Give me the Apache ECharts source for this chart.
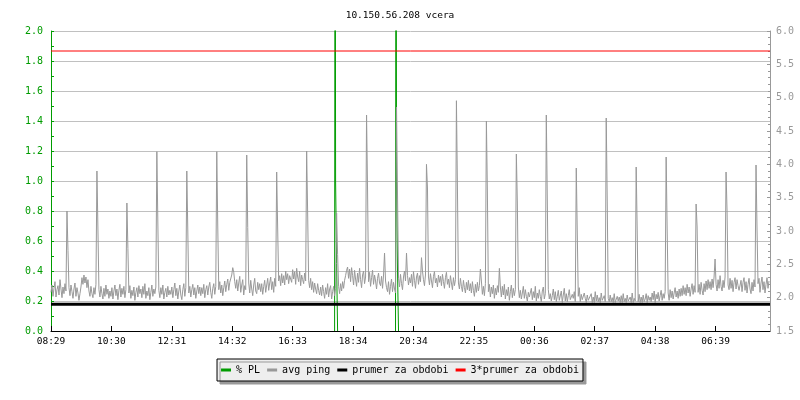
<!DOCTYPE html>
<html>
<head>
<meta charset="utf-8">
<script src="https://cdn.jsdelivr.net/npm/echarts@6/dist/echarts.min.js"></script>
<style>html,body{margin:0;padding:0;background:#fff}#c{width:800px;height:400px}</style>
</head>
<body>
<div id="c"></div>
<script>
// ---- data ----
const titleText = '10.150.56.208 vcera';
const xLabels = ['08:29','10:30','12:31','14:32','16:33','18:34','20:34','22:35','00:36','02:37','04:38','06:39'];
const xTickStep = 121;       // minutes between labelled ticks
const spanMinutes = 1440;
const pingStepMin = 2;       // sample step of avg ping (minutes)
const pingValues = [
 2.08,2.19,2.02,2.14,2.24,2.01,2.12,2.18,2.04,2.27,
 2.13,2.00,2.16,2.06,2.21,2.10,3.30,2.71,2.15,2.03,
 2.19,2.09,1.99,2.13,2.22,2.02,2.15,2.07,1.96,2.06,
 2.16,2.30,2.20,2.34,2.22,2.31,2.15,2.27,2.10,2.02,
 2.17,2.06,2.00,2.15,2.05,2.20,3.90,3.03,2.12,2.01,
 2.17,2.06,1.98,2.14,2.02,2.19,2.05,2.13,1.99,2.10,
 2.02,2.15,1.98,2.10,2.19,2.03,2.13,1.97,2.11,2.20,
 2.01,2.14,2.05,2.17,2.00,2.12,3.42,2.74,2.07,2.18,
 1.99,2.11,2.03,2.16,1.96,2.08,2.15,2.01,2.18,2.06,
 2.13,2.00,2.17,2.05,2.21,1.99,2.10,2.03,2.15,1.97,
 2.08,2.19,2.02,2.13,2.06,2.16,4.19,3.12,2.11,2.00,
 2.15,2.05,2.19,1.98,2.08,2.14,2.01,2.17,2.04,2.11,
 2.05,2.16,2.00,2.12,2.22,2.03,2.14,1.98,2.10,2.19,
 2.04,1.97,2.12,2.21,2.02,2.15,3.90,3.00,2.07,2.17,
 2.01,2.12,2.20,2.04,2.15,1.99,2.10,2.19,2.06,2.16,
 2.03,2.15,2.06,2.20,2.00,2.12,2.18,2.04,2.16,2.23,
 2.08,1.99,2.14,2.21,2.05,2.17,4.19,3.06,2.12,2.24,
 2.07,2.19,2.03,2.15,2.25,2.09,2.20,2.28,2.11,2.23,
 2.20,2.34,2.45,2.38,2.24,2.14,2.27,2.10,2.22,2.32,
 2.08,2.19,2.27,2.04,2.18,2.12,4.14,3.05,2.22,2.07,
 2.26,2.13,2.03,2.19,2.29,2.10,2.06,2.23,2.12,2.21,
 2.09,2.21,2.05,2.17,2.26,2.08,2.19,2.29,2.11,2.22,
 2.31,2.12,2.24,2.08,2.29,2.17,3.885,3.03,2.25,2.33,
 2.18,2.36,2.22,2.33,2.19,2.40,2.27,2.36,2.21,2.33,
 2.36,2.23,2.42,2.28,2.39,2.20,2.44,2.31,2.24,2.40,
 2.18,2.34,2.27,2.21,2.37,2.25,4.20,3.27,2.26,2.15,
 2.29,2.12,2.24,2.08,2.22,2.13,2.06,2.21,2.11,2.04,
 2.16,2.03,2.19,2.09,1.99,2.15,2.05,2.21,2.01,2.13,
 2.18,1.98,2.09,2.17,2.03,2.14,3.27,2.65,2.17,2.06,
 2.21,2.10,2.24,2.14,2.26,2.33,2.41,2.46,2.29,2.43,
 2.24,2.45,2.33,2.19,2.41,2.28,2.17,2.37,2.23,2.44,
 2.27,2.15,2.34,2.40,2.21,2.31,4.74,3.615,2.24,2.38,
 2.17,2.30,2.41,2.20,2.34,2.25,2.13,2.29,2.37,2.22,
 2.18,2.32,2.14,2.34,2.67,2.25,2.15,2.09,2.24,2.05,
 2.17,2.28,2.09,2.23,2.13,2.07,4.86,3.54,2.29,2.16,
 2.35,2.21,2.12,2.31,2.40,2.25,2.67,2.33,2.19,2.30,
 2.22,2.35,2.17,2.39,2.26,2.14,2.31,2.37,2.20,2.33,
 2.24,2.60,2.40,2.27,2.18,2.34,4.00,3.645,2.31,2.19,
 2.36,2.25,2.15,2.32,2.39,2.22,2.29,2.16,2.34,2.23,
 2.32,2.18,2.35,2.24,2.14,2.30,2.38,2.20,2.28,2.15,
 2.33,2.22,2.12,2.30,2.18,2.27,4.954,3.66,2.22,2.13,
 2.29,2.17,2.09,2.26,2.15,2.07,2.23,2.12,2.26,2.10,
 2.21,2.07,2.24,2.11,2.02,2.20,2.08,2.23,2.10,2.18,
 2.43,2.25,2.05,2.17,2.03,2.21,4.65,3.57,2.09,2.20,
 2.01,2.16,2.06,2.19,1.99,2.14,2.04,2.18,2.08,2.44,
 2.16,2.01,2.17,2.04,2.20,1.98,2.12,2.03,2.16,1.96,
 2.09,2.19,2.00,2.14,2.03,2.12,4.155,3.42,2.16,2.00,
 2.11,1.98,2.07,2.17,1.99,2.12,2.02,1.95,2.08,2.01,
 2.02,2.14,1.97,2.09,2.00,2.17,1.95,2.07,1.99,2.12,
 2.02,1.94,2.10,2.16,1.98,2.06,4.74,3.465,2.12,1.98,
 2.06,1.95,2.03,2.13,1.97,2.09,1.94,2.02,2.11,1.96,
 1.99,2.10,1.93,2.04,2.14,1.95,2.06,1.94,2.03,2.12,
 1.97,1.94,2.05,1.99,2.09,1.94,3.945,2.97,2.02,2.15,
 1.94,2.05,1.97,1.94,2.07,1.99,1.93,2.04,1.96,1.94,
 1.94,2.06,1.93,2.01,1.93,2.09,1.95,2.04,1.94,2.00,
 1.93,2.07,1.96,1.94,2.03,1.94,4.695,3.465,1.99,1.94,
 2.04,1.94,2.00,1.93,2.06,1.93,1.94,2.02,1.95,2.01,
 1.93,2.03,1.93,2.06,1.94,1.99,1.93,2.04,1.95,1.94,
 2.01,1.93,2.07,1.93,1.99,1.95,3.96,3.03,1.94,2.05,
 1.93,2.01,1.93,2.04,1.94,1.98,2.06,1.93,2.03,1.96,
 2.01,1.94,2.07,1.97,2.10,1.93,2.05,1.98,2.08,1.95,
 2.03,2.11,1.96,2.06,1.99,2.09,4.11,3.03,2.07,1.96,
 2.12,2.00,2.10,1.98,2.07,2.15,2.01,2.10,1.99,2.13,
 2.02,2.14,2.03,2.18,2.05,2.15,2.03,2.20,2.07,2.16,
 2.02,2.13,2.21,2.05,2.18,2.08,3.405,3.06,2.08,2.20,
 2.05,2.23,2.11,2.04,2.21,2.09,2.25,2.12,2.27,2.14,
 2.24,2.12,2.28,2.15,2.31,2.58,2.20,2.10,2.27,2.14,
 2.33,2.17,2.10,2.26,2.15,2.31,3.885,3.30,2.19,2.12,
 2.29,2.14,2.26,2.09,2.23,2.30,2.13,2.27,2.18,2.11,
 2.12,2.26,2.09,2.23,2.30,2.11,2.24,2.07,2.20,2.29,
 2.13,2.06,2.23,2.10,2.27,2.16,3.99,3.03,2.21,2.29,
 2.08,2.22,2.31,2.12,2.24,2.07,2.20,2.30,2.14,2.25
];
const plTimes  = [568, 569, 570, 572, 574, 575, 690, 691, 692, 694, 696];
const plValues = [0,   4,   1.0, 0.45, 0,  null, 0,  4,   1.0, 0.40, 0];
const avgPing = 1.9;
const avgPing3 = 5.7;
const seriesNames = ['% PL', 'avg ping', 'prumer za obdobi', '3*prumer za obdobi'];

// ---- build ----
const GREEN = '#009c00';
const GRAY = '#999999';
const FONT = 'DejaVu Sans Mono';
const pingData = pingValues.map((v, i) => [i * pingStepMin, v]);
const plData = plTimes.map((t, i) => [t, plValues[i]]);

const chart = echarts.init(document.getElementById('c'), null, {renderer: 'canvas'});
chart.setOption({
  animation: false,
  backgroundColor: '#ffffff',
  title: {
    text: titleText, left: 'center', top: 6,
    textStyle: {fontFamily: FONT, fontSize: 9.5, fontWeight: 'normal', color: '#000'}
  },
  grid: {left: 51, right: 30, top: 31, bottom: 69},
  legend: {
    data: seriesNames, left: 'center', top: 359,
    icon: 'rect', itemWidth: 10, itemHeight: 3, itemGap: 7,
    padding: [6, 4],
    backgroundColor: '#eeeeee', borderColor: '#000', borderWidth: 1,
    shadowColor: '#999999', shadowOffsetX: 3, shadowOffsetY: 3, shadowBlur: 0.01,
    textStyle: {fontFamily: FONT, fontSize: 10, color: '#000'}
  },
  xAxis: {
    type: 'value', min: 0, max: spanMinutes, interval: xTickStep, z: 10,
    axisLine: {show: true, lineStyle: {color: '#000', width: 1}},
    axisTick: {show: true, inside: true, length: 5, lineStyle: {color: '#000'}},
    splitLine: {show: false},
    axisLabel: {
      fontFamily: FONT, fontSize: 9.5, color: '#000', margin: 6, showMaxLabel: false,
      formatter: function (v) {
        const i = Math.round(v / xTickStep);
        return (Math.abs(v - i * xTickStep) < 0.01 && i < xLabels.length) ? xLabels[i] : '';
      }
    }
  },
  yAxis: [
    {
      type: 'value', min: 0, max: 2, interval: 0.2, position: 'left',
      axisLine: {show: true, lineStyle: {color: GREEN}},
      axisTick: {show: true, inside: true, length: 3, lineStyle: {color: GREEN}},
      minorTick: {show: true, splitNumber: 2, length: 3, lineStyle: {color: GREEN}},
      splitLine: {show: true, lineStyle: {color: '#c0c0c0', width: 1}},
      axisLabel: {fontFamily: FONT, fontSize: 10, color: GREEN, margin: 8,
        formatter: v => v.toFixed(1)}
    },
    {
      type: 'value', min: 1.5, max: 6, interval: 0.5, position: 'right',
      axisLine: {show: true, lineStyle: {color: GRAY}},
      axisTick: {show: true, inside: true, length: 3, lineStyle: {color: GRAY}},
      minorTick: {show: true, splitNumber: 5, length: 2, lineStyle: {color: GRAY}},
      splitLine: {show: false},
      axisLabel: {fontFamily: FONT, fontSize: 10, color: GRAY, margin: 6,
        formatter: v => v.toFixed(1)}
    }
  ],
  series: [
    {name: seriesNames[0], type: 'line', yAxisIndex: 0, data: plData, showSymbol: false,
     symbol: 'none', connectNulls: false, clip: true, color: GREEN, lineStyle: {color: GREEN, width: 1}},
    {name: seriesNames[1], type: 'line', yAxisIndex: 1, data: pingData, showSymbol: false,
     symbol: 'none', color: GRAY, lineStyle: {color: GRAY, width: 1}},
    {name: seriesNames[2], type: 'line', yAxisIndex: 1, data: [[0, avgPing], [spanMinutes, avgPing]],
     showSymbol: false, symbol: 'none', color: '#000', lineStyle: {color: '#000', width: 3}},
    {name: seriesNames[3], type: 'line', yAxisIndex: 1, data: [[0, avgPing3], [spanMinutes, avgPing3]],
     showSymbol: false, symbol: 'none', color: '#ff0000', lineStyle: {color: '#ff0000', width: 1}}
  ]
});
</script>
</body>
</html>
